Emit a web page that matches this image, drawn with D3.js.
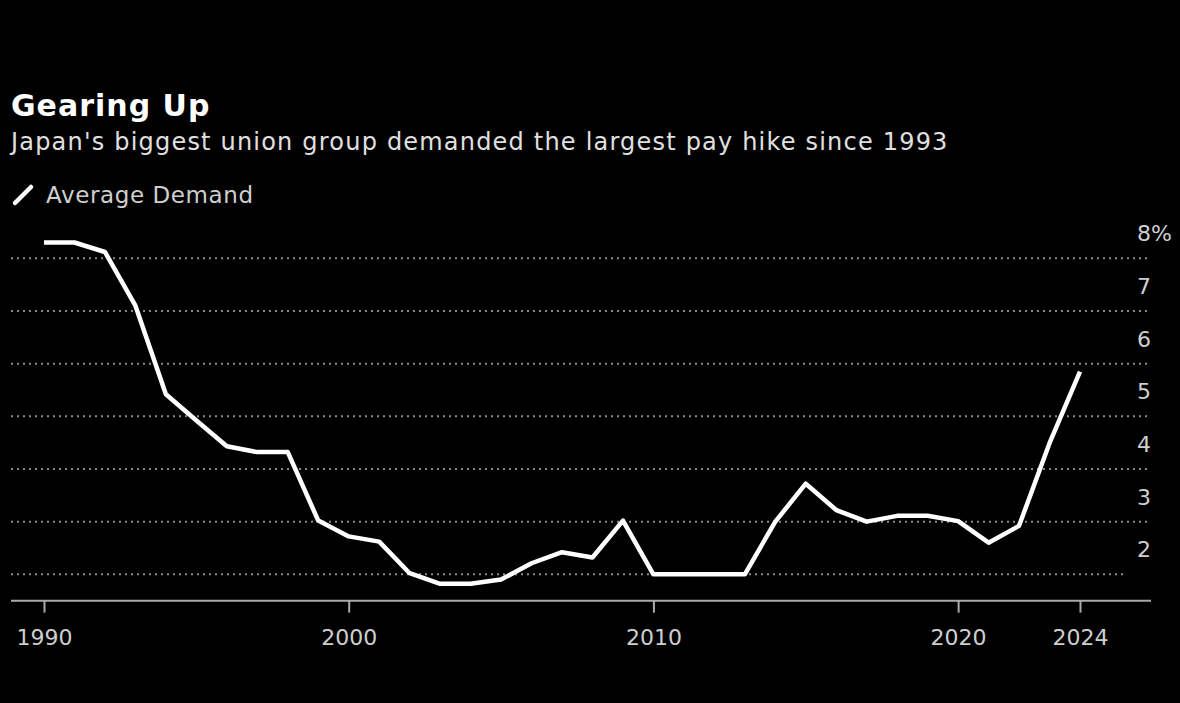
<!DOCTYPE html>
<html>
<head>
<meta charset="utf-8">
<script src="https://cdn.jsdelivr.net/npm/d3@7"></script>
<style>
  html, body { margin: 0; padding: 0; background: #000; }
  svg { display: block; }
  text { font-family: "DejaVu Sans", sans-serif; }
</style>
</head>
<body>
<svg id="chart" width="1180" height="703"></svg>
<script>
const years = [1990,1991,1992,1993,1994,1995,1996,1997,1998,1999,2000,2001,2002,2003,2004,2005,2006,2007,2008,2009,2010,2011,2012,2013,2014,2015,2016,2017,2018,2019,2020,2021,2022,2023,2024];
const demand = [8.3,8.3,8.12,7.1,5.42,4.92,4.43,4.32,4.32,3.02,2.72,2.62,2.02,1.82,1.82,1.9,2.21,2.42,2.32,3.02,2.0,2.0,2.0,2.0,3.0,3.72,3.22,3.0,3.11,3.11,3.01,2.6,2.92,4.49,5.85];
const yTicks = [2,3,4,5,6,7,8];
const xTicks = [1990,2000,2010,2020,2024];
const title = "Gearing Up";
const subtitle = "Japan's biggest union group demanded the largest pay hike since 1993";
const seriesName = "Average Demand";

const svg = d3.select("#chart");
svg.append("rect").attr("width",1180).attr("height",703).attr("fill","#000");

const x = d3.scaleLinear().domain([1990,2024]).range([44,1080]);
const y = d3.scaleLinear().domain([2,8]).range([574.3,258.3]);
const axisY = y(1.5);

// titles
svg.append("text").attr("x",11).attr("y",116).attr("fill","#fff")
  .attr("font-size",30).attr("font-weight","bold").attr("letter-spacing",1).text(title);
svg.append("text").attr("x",11).attr("y",150).attr("fill","#e0e0e0")
  .attr("font-size",24).attr("letter-spacing",1.2).text(subtitle);

// legend
svg.append("line").attr("x1",15).attr("y1",203).attr("x2",31).attr("y2",187)
  .attr("stroke","#fff").attr("stroke-width",4.5).attr("stroke-linecap","round");
svg.append("text").attr("x",46).attr("y",203).attr("fill","#cfcfcf")
  .attr("font-size",23).attr("letter-spacing",0.6).text(seriesName);

// gridlines
svg.append("g").selectAll("line").data(yTicks).join("line")
  .attr("x1",11).attr("x2",d => d === 2 ? 1127 : 1148)
  .attr("y1",d => y(d)).attr("y2",d => y(d))
  .attr("stroke","#8a8a8a").attr("stroke-width",2)
  .attr("stroke-dasharray","2,4");

// y labels
svg.append("g").selectAll("text").data(yTicks).join("text")
  .attr("x",1137).attr("y",d => y(d) - 17)
  .attr("fill","#cfcfcf").attr("font-size",22)
  .text(d => d === 8 ? d + "%" : d);

// x axis
const xAxis = d3.axisBottom(x).tickValues(xTicks).tickFormat(d3.format("d"))
  .tickSize(12).tickPadding(17);
const gx = svg.append("g").attr("transform",`translate(0,${axisY})`).call(xAxis);
gx.select(".domain").remove();
gx.selectAll(".tick line").attr("stroke","#aaa").attr("stroke-width",2);
gx.selectAll(".tick text").attr("fill","#cfcfcf").attr("font-size",22)
  .attr("font-family","DejaVu Sans, sans-serif");
svg.append("line").attr("x1",11).attr("x2",1151).attr("y1",axisY).attr("y2",axisY)
  .attr("stroke","#aaa").attr("stroke-width",2);

// line
const line = d3.line().x((d,i) => x(years[i])).y(d => y(d));
svg.append("path").datum(demand).attr("d",line)
  .attr("fill","none").attr("stroke","#fff").attr("stroke-width",4.5)
  .attr("stroke-linejoin","round");
</script>
</body>
</html>
